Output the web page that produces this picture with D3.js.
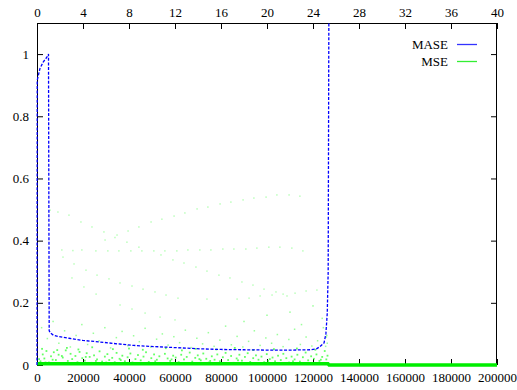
<!DOCTYPE html>
<html>
<head>
<meta charset="utf-8">
<script src="https://cdn.jsdelivr.net/npm/d3@7"></script>
<style>
  body { margin: 0; background: #fff; }
  text { font-family: "Liberation Serif", "DejaVu Serif", serif; font-size: 13px; fill: #000; }
</style>
</head>
<body>
<div id="chart"></div>
<script>
// bottom axis (samples), top axis (x2), left axis
const xTicks = [0, 20000, 40000, 60000, 80000, 100000, 120000, 140000, 160000, 180000, 200000];
const x2Ticks = [0, 4, 8, 12, 16, 20, 24, 28, 32, 36, 40];
const yTicks = [0, 0.2, 0.4, 0.6, 0.8, 1];
const seriesNames = ['MASE', 'MSE'];

// MASE curve
const maseX = [0, 100, 1300, 2750, 4200, 5000, 5300, 6000, 7100, 9000, 13900, 20000, 27400, 35000, 42000, 49100,
  60000, 70900, 80000, 90000, 100000, 110000, 118700, 121500, 123000, 124800, 125600, 126200, 126600, 127000];
const maseY = [0, 0.916, 0.954, 0.975, 0.989, 1.0, 0.11, 0.102, 0.096, 0.092, 0.086, 0.079, 0.074, 0.068, 0.063, 0.06,
  0.056, 0.052, 0.05, 0.049, 0.048, 0.048, 0.049, 0.052, 0.059, 0.071, 0.1, 0.167, 0.3, 1.4];

// MSE floor (dense band hugging zero)
const mseFloorX = [0, 126500, 127000, 200000];
const mseFloorY = [0.004, 0.004, 0, 0];

// MSE scatter, low band
const mseLow = [[1500,0.012],[2500,0.034],[3200,0.021],[4100,0.045],[5200,0.008],[6100,0.028],[7300,0.041],[8200,0.016],
  [9400,0.033],[10300,0.006],[11200,0.024],[12500,0.047],[13400,0.013],[14600,0.036],[15300,0.019],[16700,0.029],
  [17600,0.009],[18500,0.042],[19700,0.022],[20800,0.014],[21600,0.038],[22900,0.026],[23700,0.007],[24800,0.031],
  [26100,0.018],[27200,0.044],[28300,0.011],[29500,0.027],[30600,0.035],[31400,0.016],[32700,0.023],[33800,0.009],
  [34600,0.039],[35900,0.02],[37100,0.03],[38200,0.012],[39400,0.025],[40600,0.037],[41500,0.008],[42800,0.019],
  [43900,0.032],[45100,0.015],[46300,0.027],[47400,0.041],[48600,0.01],[49700,0.022],[50900,0.034],[52100,0.017],
  [53200,0.028],[54500,0.006],[55600,0.036],[56800,0.021],[57900,0.013],[59200,0.03],[60300,0.024],[61600,0.009],
  [62700,0.033],[63900,0.018],[65100,0.026],[66400,0.04],[67500,0.011],[68800,0.023],[69900,0.031],[71200,0.015],
  [72300,0.037],[73600,0.02],[74700,0.008],[76000,0.028],[77200,0.017],[78400,0.034],[79500,0.012],[80800,0.025],
  [82000,0.039],[83100,0.016],[84400,0.029],[85500,0.007],[86800,0.021],[88000,0.033],[89100,0.014],[90400,0.026],
  [91600,0.038],[92700,0.01],[94000,0.022],[95200,0.031],[96300,0.017],[97600,0.027],[98800,0.009],[99900,0.035],
  [101200,0.019],[102400,0.024],[103500,0.012],[104800,0.03],[106000,0.016],[107100,0.036],[108400,0.022],[109600,0.008],
  [110700,0.027],[112000,0.018],[113200,0.033],[114300,0.011],[115600,0.025],[116800,0.04],[117900,0.015],[119200,0.028],
  [120400,0.02],[121500,0.034],[122800,0.013],[124000,0.026],[125100,0.045],[125800,0.018],[126300,0.03],
  [900,0.019],[3700,0.008],[6800,0.017],[10800,0.029],[16100,0.004],[21200,0.026],[25600,0.013],[30100,0.008],
  [36400,0.016],[44200,0.006],[51400,0.012],[58500,0.018],[64400,0.005],[70600,0.019],[75300,0.013],[81400,0.006],
  [87400,0.015],[93300,0.004],[100500,0.013],[105400,0.005],[111300,0.012],[118500,0.006],[123400,0.017],
  [2200,0.052],[8800,0.048],[13000,0.055],[18000,0.05],[24000,0.057],[33000,0.051],[40000,0.053],[46000,0.049],
  [56000,0.054],[63000,0.047],[69000,0.052],[78000,0.05],[86000,0.055],[94000,0.048],[103000,0.051],[113000,0.053],
  [121000,0.049]];

// MSE scatter, middle band
const mseMid = [[2000,0.12],[4500,0.085],[7000,0.14],[9500,0.07],[12000,0.11],[14500,0.058],[17000,0.095],[19500,0.13],
  [22000,0.066],[24500,0.102],[27000,0.078],[29500,0.12],[32000,0.055],[34500,0.088],[37000,0.108],[39500,0.062],
  [42000,0.094],[44500,0.075],[47000,0.118],[49500,0.057],[52000,0.083],[54500,0.1],[57000,0.064],[59500,0.091],
  [62000,0.072],[64500,0.112],[67000,0.056],[69500,0.086],[72000,0.068],[74500,0.104],[77000,0.06],[79500,0.08],
  [82000,0.125],[84500,0.065],[87000,0.092],[89500,0.058],[92000,0.076],[94500,0.11],[97000,0.063],[99500,0.087],
  [102000,0.07],[104500,0.098],[107000,0.059],[109500,0.082],[112000,0.115],[114500,0.066],[117000,0.09],[119500,0.061],
  [122000,0.078],[124500,0.12],[126000,0.095],[125500,0.06],[125800,0.09],[126200,0.07],
  [90000,0.14],[100000,0.16],[110000,0.17],[115000,0.13],[120000,0.19],[124000,0.15]];

// MSE scatter, sparse upper traces
const mseUpper = [[5700,0.498],[9100,0.492],[13900,0.482],[19100,0.46],[23900,0.444],[29100,0.428],[39600,0.431],
  [44300,0.444],[49600,0.46],[54300,0.469],[59600,0.479],[64300,0.489],[69600,0.502],[74300,0.508],[79600,0.518],
  [84300,0.524],[89600,0.531],[94300,0.537],[99600,0.54],[104300,0.547],[109600,0.547],[114300,0.543]];
const mseFlat = [[10800,0.37],[15600,0.368],[19500,0.37],[25600,0.367],[30800,0.367],[35600,0.367],[40800,0.367],
  [45600,0.367],[50800,0.367],[55600,0.367],[60800,0.367],[65600,0.37],[70800,0.37],[75600,0.37],[80800,0.373],
  [85600,0.373],[90800,0.373],[95600,0.376],[100800,0.379],[105600,0.379],[110800,0.376],[115600,0.367]];
const mseFalling = [[11300,0.347],[16100,0.325],[21300,0.305],[26100,0.289],[31300,0.277],[36100,0.264],[41300,0.254],
  [46100,0.244],[51300,0.235],[56100,0.225],[61300,0.215],[73900,0.212],[87000,0.212],[92200,0.215],[97000,0.222],
  [102200,0.225],[107000,0.228],[112200,0.231],[117000,0.238],[121700,0.241],
  [15200,0.28],[20400,0.251],[25700,0.228],[36100,0.193],[41300,0.18],[47000,0.167],[53500,0.154],[60000,0.145],
  [29600,0.402],[33900,0.41],[34800,0.418],[39100,0.395],[44300,0.379],
  [53900,0.354],[59100,0.338],[63900,0.328],[69100,0.315],[73900,0.302],[79100,0.289],[83900,0.28],[89100,0.267],
  [93900,0.257],[98700,0.244],[103900,0.235],[108700,0.222]];

const width = 517;
const height = 390;
const margin = { top: 23, right: 20, bottom: 25, left: 37 };
const innerW = width - margin.left - margin.right;
const innerH = height - margin.top - margin.bottom;

const svg = d3.select('#chart')
  .append('svg')
  .attr('width', width)
  .attr('height', height);

const x = d3.scaleLinear().domain([0, 200000]).range([margin.left, width - margin.right]);
const x2 = d3.scaleLinear().domain([0, 40]).range([margin.left, width - margin.right]);
const y = d3.scaleLinear().domain([0, 1.1]).range([height - margin.bottom, margin.top]);

svg.append('defs').append('clipPath').attr('id', 'plot')
  .append('rect')
  .attr('x', margin.left - 1).attr('y', margin.top)
  .attr('width', innerW + 1).attr('height', innerH + 2);

// frame first, gnuplot draws the data over it
svg.append('rect')
  .attr('x', margin.left + 0.5).attr('y', margin.top + 0.5)
  .attr('width', innerW - 1).attr('height', innerH - 1)
  .attr('fill', 'none')
  .attr('stroke', '#000')
  .attr('stroke-width', 1);

// axes, ticks pointing inward like gnuplot
const styleAxis = g => {
  g.select('.domain').remove();
  g.selectAll('.tick line').attr('stroke', '#000');
  g.selectAll('text').style('font-size', '13px').attr('fill', '#000');
};

svg.append('g')
  .attr('transform', `translate(0,${height - margin.bottom})`)
  .call(d3.axisBottom(x).tickValues(xTicks).tickSize(-6).tickPadding(8).tickFormat(d3.format('d')))
  .call(styleAxis);

svg.append('g')
  .attr('transform', `translate(0,${margin.top})`)
  .call(d3.axisTop(x2).tickValues(x2Ticks).tickSize(-6).tickPadding(6).tickFormat(d3.format('d')))
  .call(styleAxis);

svg.append('g')
  .attr('transform', `translate(${margin.left},0)`)
  .call(d3.axisLeft(y).tickValues(yTicks).tickSize(-6).tickPadding(8).tickFormat(d => d === 0 || d === 1 ? `${d}` : d3.format('.1f')(d)))
  .call(styleAxis);

svg.append('g')
  .attr('transform', `translate(${width - margin.right},0)`)
  .call(d3.axisRight(y).tickValues(yTicks).tickSize(-6).tickFormat(''))
  .call(styleAxis);

const plot = svg.append('g').attr('clip-path', 'url(#plot)');

// MSE
const dots = (data, op, size) => plot.append('g')
  .selectAll('rect')
  .data(data)
  .enter()
  .append('rect')
  .attr('x', d => x(d[0]) - size / 2)
  .attr('y', d => y(d[1]) - size / 2)
  .attr('width', size)
  .attr('height', size)
  .attr('fill', '#22ff22')
  .attr('opacity', op);

dots(mseLow, 0.7, 1.8);
dots(mseMid, 0.45, 1.5);
dots(mseUpper, 0.3, 1.5);
dots(mseFlat, 0.3, 1.5);
dots(mseFalling, 0.3, 1.5);

const floorLine = d3.line().x(d => x(d[0])).y(d => y(d[1]));
plot.append('path')
  .datum(mseFloorX.map((v, i) => [v, mseFloorY[i]]))
  .attr('fill', 'none')
  .attr('stroke', '#00ee00')
  .attr('stroke-width', 3.5)
  .attr('d', floorLine);

// MASE
const maseLine = d3.line().x(d => x(d[0])).y(d => y(d[1]));
plot.append('path')
  .datum(maseX.map((v, i) => [v, maseY[i]]))
  .attr('fill', 'none')
  .attr('stroke', '#0000ff')
  .attr('stroke-width', 1.3)
  .attr('stroke-dasharray', '3,1.6')
  .attr('d', maseLine);

// legend
const legendColors = ['#3333ff', '#33ee33'];
const legend = svg.append('g');
seriesNames.forEach((name, i) => {
  const ly = 44.5 + i * 17;
  legend.append('text')
    .attr('x', 448)
    .attr('y', ly + 4.5)
    .attr('text-anchor', 'end')
    .text(name);
  legend.append('line')
    .attr('x1', 457).attr('x2', 477)
    .attr('y1', ly).attr('y2', ly)
    .attr('stroke', legendColors[i])
    .attr('stroke-width', 1.3);
});
</script>
</body>
</html>
